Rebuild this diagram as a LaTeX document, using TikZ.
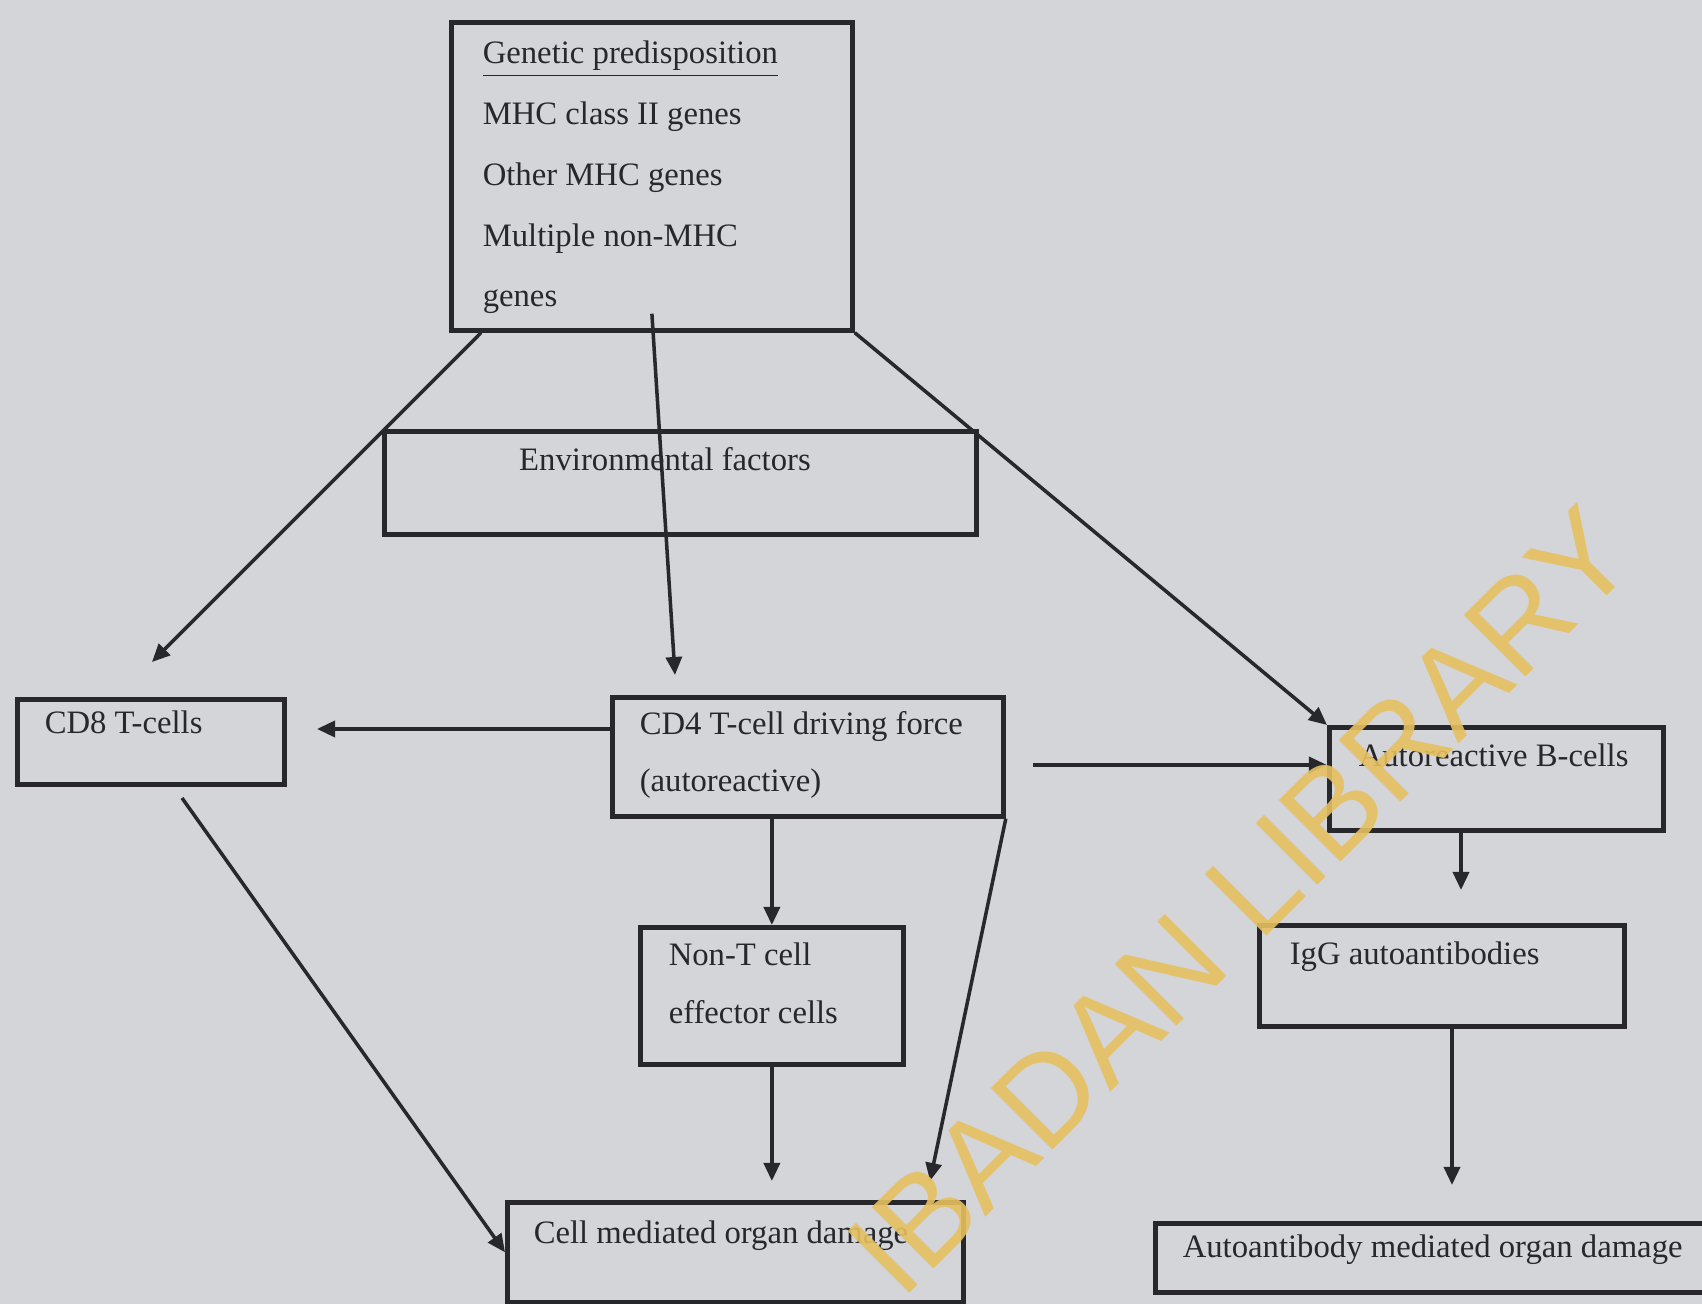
\documentclass[tikz,border=0pt]{standalone}
\usepackage{fontspec}
\setmainfont{Liberation Serif}
\newfontfamily\stampfont{Liberation Sans}
\usetikzlibrary{arrows.meta, positioning}

\definecolor{paper}{RGB}{211,213,217}
\definecolor{ink}{RGB}{40,40,44}
\definecolor{stamp}{RGB}{230,192,96}

\begin{document}
\begin{tikzpicture}[x=0.01cm, y=-0.01cm, ->, >={Triangle[length=0.18cm, width=0.16cm]}, line width=1pt, draw=ink,
 box/.style={draw=ink, line width=1.3pt, rectangle, anchor=north west, inner sep=0pt},
 txt/.style={anchor=base west, inner sep=0pt, text=ink, align=left,
   font=\fontsize{9.3}{17.3}\selectfont}]
  \fill[paper, -] (0,0) rectangle (1702,1304);
  \useasboundingbox (0,0) rectangle (1702,1304);

  % boxes
  \node[box, minimum width=4.01cm, minimum height=3.08cm] (gen) at (449,20) {};
  \node[box, minimum width=5.92cm, minimum height=1.03cm] (env) at (382,429) {};
  \node[box, minimum width=2.67cm, minimum height=0.85cm] (cd8) at (15,697) {};
  \node[box, minimum width=3.91cm, minimum height=1.19cm] (cd4) at (610,695) {};
  \node[box, minimum width=3.34cm, minimum height=1.03cm] (bcl) at (1327,725) {};
  \node[box, minimum width=2.63cm, minimum height=1.37cm] (nont) at (638,925) {};
  \node[box, minimum width=3.65cm, minimum height=1.01cm] (igg) at (1257,923) {};
  \node[box, minimum width=4.56cm, minimum height=1.00cm] (cmd) at (505,1200) {};
  \node[box, minimum width=5.90cm, minimum height=0.69cm] (aad) at (1153,1221) {};

  % texts (multi-line ones sit on their last baseline)
  \node[txt] (gen-t) at (481,307) {\underline{Genetic predisposition}\\MHC class II genes\\Other MHC genes\\Multiple non-MHC\\genes};
  \node[txt, anchor=base] (env-t) at (665,471) {Environmental factors};
  \node[txt] (cd8-t) at (43,734) {CD8 T-cells};
  \node[txt, font=\fontsize{9.3}{16.4}\selectfont] (cd4-t) at (638,792) {CD4 T-cell driving force\\(autoreactive)};
  \node[txt] (bcl-t) at (1357,767) {Autoreactive B-cells};
  \node[txt, font=\fontsize{9.3}{16.7}\selectfont] (nont-t) at (667,1024) {Non-T cell\\effector cells};
  \node[txt] (igg-t) at (1288,965) {IgG autoantibodies};
  \node[txt] (cmd-t) at (532,1244) {Cell mediated organ damage};
  \node[txt] (aad-t) at (1181,1258) {Autoantibody mediated organ damage};

  % loose ends
  \coordinate (cd8-in) at (152,662);
  \coordinate (cd4-in) at (675,675);
  \coordinate (cd8-r) at (317,729);
  \coordinate (cd4-r) at (1033,765);
  \coordinate (cmd-in) at (930,1181);
  \coordinate (cd8-out) at (182,798);
  \coordinate (igg-in) at (1461,890);
  \coordinate (aad-in) at (1452,1185);

  \foreach \s/\t in {gen.south east/bcl.north west, cd8-out/cmd.west, cd4.south east/cmd-in} {
    \path (\s) edge (\t);}

  \path
	([xshift=0.32cm]gen.south west) edge (cd8-in)
	([yshift=0.19cm]gen.south) edge (cd4-in)
	(cd4.west |- cd8-r) edge (cd8-r)
	(cd4-r) edge (bcl.west |- cd4-r)
	(nont.north |- cd4.south) edge (nont.north)
	(nont.south) edge (nont.south |- cmd-in)
	(bcl.south -| igg-in) edge (igg-in)
	(igg.south -| aad-in) edge (aad-in);

  % library stamp
  \node[anchor=base west, inner sep=0pt, rotate=45, text=stamp, opacity=0.9,
    font=\stampfont\fontsize{36}{40}\selectfont] (stamp) at (900,1303) {IBADAN LIBRARY};
\end{tikzpicture}
\end{document}
